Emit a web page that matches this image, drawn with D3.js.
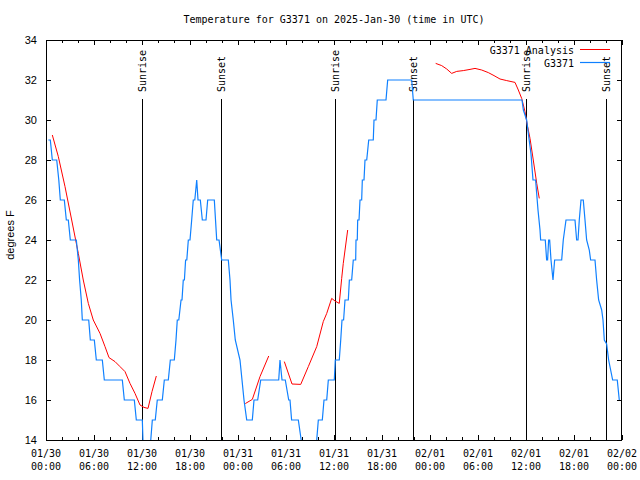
<!DOCTYPE html>
<html><head><meta charset="utf-8">
<script src="https://cdn.jsdelivr.net/npm/d3@7"></script>
<style>body{margin:0;background:#fff}svg{display:block}</style>
</head><body>
<svg id="c" width="640" height="480"></svg>
<script>
// ---------- data ----------
const startTime = "2025-01-30T00:00:00Z";
const endTime = "2025-02-02T00:00:00Z";
const yTicks = [14,16,18,20,22,24,26,28,30,32,34];
const xTickHours = [0,6,12,18,24,30,36,42,48,54,60,66,72];
const xTickDates = ["01/30","01/30","01/30","01/30","01/31","01/31","01/31","01/31","02/01","02/01","02/01","02/01","02/02"];
const xTickTimes = ["00:00","06:00","12:00","18:00","00:00","06:00","12:00","18:00","00:00","06:00","12:00","18:00","00:00"];
const eventHours = [12.04, 21.91, 36.16, 45.91, 60.0, 69.94];
const eventLabels = ["Sunrise","Sunset","Sunrise","Sunset","Sunrise","Sunset"];

// station observations (hours since start, deg F); 13 = below axis
const obsHours = [0.29,0.54,0.79,1.34,1.6,1.79,2.29,2.54,2.79,3.04,3.79,4.04,4.2,4.41,4.54,5.34,5.54,6.04,6.29,7.04,7.29,9.54,9.79,11.04,11.29,12.04,12.2,12.9,13.29,13.66,13.91,14.54,14.79,15.29,15.54,16.04,16.25,16.41,16.6,16.88,17.0,17.16,17.3,17.45,17.6,17.79,18.0,18.21,18.41,18.6,18.84,19.0,19.29,19.54,20.0,20.21,21.04,21.34,21.63,21.96,22.79,23.0,23.13,23.41,23.66,24.25,24.5,24.75,25.09,25.79,26.0,26.46,26.84,29.09,29.25,29.5,29.91,30.34,30.5,30.7,31.54,31.9,32.1,33.6,33.84,34.04,34.54,34.75,35.09,35.29,36.04,36.16,36.66,36.84,37.0,37.2,37.375,37.79,37.92,38.21,38.41,38.71,38.75,38.91,38.96,39.13,39.25,39.46,39.54,39.75,39.875,40.09,40.34,40.91,41.0,41.25,41.41,42.5,42.71,45.71,45.91,59.5,59.67,60.08,60.33,60.625,60.875,61.2,61.5,61.75,61.83,62.41,62.58,62.7,62.83,62.96,63.125,63.375,63.58,64.46,64.66,65.0,66.125,66.33,66.5,66.66,66.875,67.16,67.375,67.58,67.91,68.08,68.625,68.83,69.08,69.46,69.625,69.79,70.08,70.33,70.58,70.83,71.41,71.66];
const obsTemps = [29,29,28,28,27,26,26,25,25,24,24,23,22,21,20,20,19,19,18,18,17,17,16,16,15,15,13,13,15,15,16,16,17,17,18,18,19,20,20,21,21,22,22,23,23,24,24,25,26,26,27,26,26,25,25,26,26,24,24,23,23,22,21,20,19,18,17,16,15,15,16,16,17,17,18,17,17,16,16,15,15,14,13,13,14,15,15,16,16,17,17,18,18,19,20,20,21,21,22,22,23,23,24,24,25,25,26,26,27,27,28,28,29,29,30,30,31,31,32,32,31,31,30.5,30,29.2,28.3,27,27,25.5,24.5,24,24,23,23,24,24,23,22,23,23,24,25,25,24,24,25,26,26,25,24,23.5,23,23,22,21,20.5,20,19,18.8,18,17.5,17,17,16];

// analysis (null = gap)
const anaHours = [0.79,1.54,2.375,3.21,4.04,4.66,5.29,5.91,6.75,7.375,7.875,8.625,9.25,9.875,10.5,11.125,11.75,12.25,12.75,13.25,13.79,null,24.91,25.79,26.75,27.84,null,29.79,30.75,31.84,32.79,33.84,34.66,35.09,35.71,36.125,36.66,36.96,37.16,37.71,null,48.71,49.46,50.09,50.71,51.34,52.16,53.0,53.625,54.46,55.29,56.0,56.75,57.59,58.625,59.04,59.46,59.875,60.16,60.5,60.91,61.34,61.66];
const anaTemps = [29.25,28.17,26.67,25.0,23.33,22.0,20.83,20.0,19.33,18.67,18.12,17.92,17.67,17.42,16.83,16.33,15.75,15.63,15.58,16.42,17.2,null,15.82,16.03,17.17,18.2,null,17.92,16.8,16.78,17.67,18.67,19.92,20.33,21.08,20.95,20.83,22.08,22.83,24.5,null,32.83,32.72,32.55,32.33,32.43,32.47,32.53,32.58,32.5,32.37,32.22,32.05,31.97,31.88,31.5,31.08,30.42,29.75,29.08,28.0,26.83,26.08];

// ---------- drawing ----------
const svg = d3.select("#c");
const L = 46, R = 622, T = 40, B = 440;
const t0 = new Date(startTime).getTime();
const toDate = h => new Date(t0 + h * 3600e3);
const x = d3.scaleUtc().domain([new Date(startTime), new Date(endTime)]).range([L, R]);
const y = d3.scaleLinear().domain([14, 34]).range([B, T]);
const mono = "'DejaVu Sans Mono', monospace";
const sans = "'Liberation Sans', Arial, sans-serif";

svg.append("defs").append("clipPath").attr("id", "clip")
  .append("rect").attr("x", L).attr("y", T).attr("width", R - L).attr("height", B - T);

// title
svg.append("text").attr("x", 334).attr("y", 23).attr("text-anchor", "middle")
  .attr("font-family", mono).attr("font-size", 10).text("Temperature for G3371 on 2025-Jan-30 (time in UTC)");

// y label
svg.append("text").attr("transform", "translate(14,235) rotate(-90)").attr("text-anchor", "middle")
  .attr("font-family", sans).attr("font-size", 11).text("degrees F");

// axes
const majorDates = xTickHours.map(toDate);
const minorDates = d3.range(0, 73, 2).filter(h => h % 6 !== 0).map(toDate);
function styleAxis(g){ g.select(".domain").remove(); g.selectAll("line").attr("stroke","#000").attr("shape-rendering","crispEdges"); }

const gxb = svg.append("g").attr("transform", `translate(0,${B})`)
  .call(d3.axisBottom(x).tickValues(majorDates).tickSize(-5).tickFormat(""));
styleAxis(gxb);
gxb.selectAll("text").remove();
const gxbm = svg.append("g").attr("transform", `translate(0,${B})`)
  .call(d3.axisBottom(x).tickValues(minorDates).tickSize(-3).tickFormat(""));
styleAxis(gxbm); gxbm.selectAll("text").remove();
const gxt = svg.append("g").attr("transform", `translate(0,${T})`)
  .call(d3.axisTop(x).tickValues(majorDates).tickSize(-5).tickFormat(""));
styleAxis(gxt); gxt.selectAll("text").remove();
const gxtm = svg.append("g").attr("transform", `translate(0,${T})`)
  .call(d3.axisTop(x).tickValues(minorDates).tickSize(-3).tickFormat(""));
styleAxis(gxtm); gxtm.selectAll("text").remove();

// x labels (two lines)
const xl = svg.append("g").attr("font-family", mono).attr("font-size", 10).attr("text-anchor", "middle");
xTickHours.forEach((h, i) => {
  const t = xl.append("text").attr("x", x(toDate(h)));
  t.append("tspan").attr("x", x(toDate(h))).attr("y", 457).text(xTickDates[i]);
  t.append("tspan").attr("x", x(toDate(h))).attr("y", 470).text(xTickTimes[i]);
});

const gyl = svg.append("g").attr("transform", `translate(${L},0)`)
  .call(d3.axisLeft(y).tickValues(yTicks).tickSize(-5).tickPadding(9).tickFormat(d3.format("d")));
styleAxis(gyl);
gyl.selectAll("text").attr("font-family", sans).attr("font-size", 11).attr("fill", "#000");
const gyr = svg.append("g").attr("transform", `translate(${R},0)`)
  .call(d3.axisRight(y).tickValues(yTicks).tickSize(-5).tickFormat(""));
styleAxis(gyr); gyr.selectAll("text").remove();

// border
svg.append("rect").attr("x", L + 0.5).attr("y", T + 0.5).attr("width", R - L - 1).attr("height", B - T)
  .attr("fill", "none").attr("stroke", "#000").attr("stroke-width", 1);

// sunrise/sunset
const ev = svg.append("g");
eventHours.forEach((h, i) => {
  const xp = Math.round(x(toDate(h))) + 0.5;
  ev.append("line").attr("x1", xp).attr("x2", xp).attr("y1", 99).attr("y2", B)
    .attr("stroke", "#000").attr("stroke-width", 1);
  ev.append("text").attr("transform", `translate(${xp},92) rotate(-90)`).attr("dy", "0.35em")
    .attr("font-family", mono).attr("font-size", 10).text(eventLabels[i]);
});

// data lines
const plot = svg.append("g").attr("clip-path", "url(#clip)");
const obs = obsHours.map((h, i) => ({ t: toDate(h), v: obsTemps[i] }));
const ana = anaHours.map((h, i) => ({ t: h === null ? null : toDate(h), v: anaTemps[i] }));
const line = d3.line().defined(d => d.v !== null).x(d => x(d.t)).y(d => y(d.v));

plot.append("path").datum(ana).attr("d", line).attr("fill", "none").attr("stroke", "#ff0000").attr("stroke-width", 1);
plot.append("path").datum(obs).attr("d", line).attr("fill", "none").attr("stroke", "#0f80ff").attr("stroke-width", 1.2);

// legend
const lg = svg.append("g").attr("font-family", mono).attr("font-size", 10);
lg.append("text").attr("x", 574).attr("y", 50).attr("dy", "0.35em").attr("text-anchor", "end").text("G3371 Analysis");
lg.append("line").attr("x1", 580).attr("x2", 610).attr("y1", 49.5).attr("y2", 49.5).attr("stroke", "#ff0000");
lg.append("text").attr("x", 574).attr("y", 63).attr("dy", "0.35em").attr("text-anchor", "end").text("G3371");
lg.append("line").attr("x1", 580).attr("x2", 610).attr("y1", 62.5).attr("y2", 62.5).attr("stroke", "#0f80ff").attr("stroke-width", 1.2);
</script>
</body></html>
